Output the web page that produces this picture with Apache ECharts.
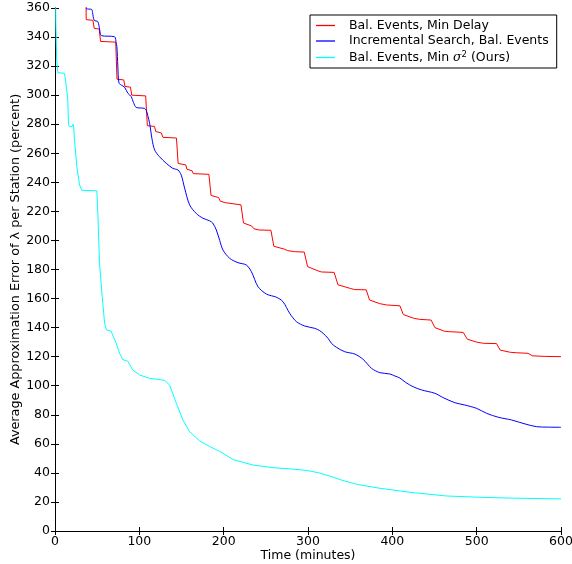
<!DOCTYPE html>
<html>
<head>
<meta charset="utf-8">
<script src="https://cdn.jsdelivr.net/npm/echarts@6/dist/echarts.min.js"></script>
<style>html,body{margin:0;padding:0;background:#fff}#c{width:572px;height:564px}</style>
</head>
<body>
<div id="c"></div>
<script>
// Time (minutes), Average approximation error (percent)
const seriesNames = ["Bal. Events, Min Delay", "Incremental Search, Bal. Events", "Bal. Events, Min \u03c3\u00b2 (Ours)"];
const minDelay = [[36.5,380],[37,352],[45,351.5],[46.5,346],[52.5,345.5],[54,337],[72,336.5],[73.5,311],[81.5,310.5],[83,306],[89.5,305.5],[91,300],[107.5,299.5],[109.5,279],[118,278.5],[119.5,275],[126,274],[128,271],[144,270.5],[146,253],[155,252],[156.5,249],[162.5,248],[164,246],[182.5,245.5],[185,231],[194,229.5],[196,227],[202,226],[204,225],[220.5,224.5],[223.5,212],[233,210],[236,208],[242,207.2],[256,207],[259.5,196],[272,194],[276,193],[284,192.3],[295.5,192],[299.5,182],[312,179],[316,178.3],[331,178],[335.5,169.5],[350,167],[355,166.2],[369,166],[373,159],[385,156.5],[393,155.6],[409,155],[413,149],[425,146.5],[432,145.7],[446,145.2],[450.5,140],[462,137.5],[468,137.2],[484,136.7],[489,132],[500,130],[508,129.2],[523.5,129],[528,124.5],[540,123],[547,122.7],[561,122.3],[566,120.6],[580,120.2],[600,120]];
const incremental = [[37,365],[37.5,359.5],[43.5,359],[44.5,357],[46.5,351.5],[50.8,350.6],[53,345],[55,341],[70.6,340.2],[72.5,336],[73.4,333.4],[74.5,320],[75.8,308.5],[78.5,307],[82.5,305.5],[86.4,301.3],[90.4,299],[93,295],[96.3,291.6],[106.2,290.9],[108.2,289.5],[110,286],[112.2,280.6],[115,270],[118.1,262.3],[124,257.6],[131.9,253.1],[139.8,249.6],[145.8,248.5],[149.7,245],[153.7,236],[159.6,224.5],[167.6,218.5],[175.4,215.3],[183.4,213.5],[187,212],[191.3,207.2],[195.3,200],[199.2,193.4],[207.1,187.7],[217,184.7],[226.9,183.1],[232.9,178.5],[240.7,168.2],[250.7,163.1],[262.6,160.9],[270.4,157.8],[278.3,149.8],[286.3,144.1],[296.1,141.1],[308,139.5],[313.9,137.9],[317.9,136.1],[323.8,132.6],[327.8,129.2],[333.8,126.4],[343.6,123.4],[355.5,121.8],[365.3,118.2],[375.3,112],[385.2,109],[397,108.1],[403,106.7],[408.9,105.3],[416,102.2],[424.7,99.3],[434.6,97.1],[450.4,94.8],[460.3,91.8],[474.2,88.3],[486.1,86.7],[500,84.4],[511.8,81],[525.6,78.3],[541.5,76.4],[557.3,73.7],[571.1,71.8],[585,71.5],[600,71.4]];
const minVariance = [[0,420],[1,350],[2,325],[3.4,315.5],[11.3,315],[13,308],[15.2,296.7],[16,280],[17,278.5],[20.4,278.5],[21.5,280],[22.2,278],[23.1,269],[25.9,250.8],[29.1,238.2],[31.8,234.5],[49.6,234.2],[50.8,218.7],[52.8,184.3],[56,161.3],[58.8,143],[61,138.5],[62.7,137.9],[66.5,137.5],[68.6,136.5],[72.6,129.2],[76.6,122.3],[80.5,117.9],[84,117.3],[86.4,116.8],[92.3,110.8],[100.3,107.4],[112.2,105.1],[125,104.2],[130,103.6],[135.9,100.5],[143.9,87.9],[151.7,76.4],[159.6,68.4],[171.5,62],[183.4,58.2],[195.3,54.8],[211,49.2],[234.8,45.4],[258.5,43.6],[280,42.7],[290.2,42.2],[302,41.3],[313,40],[325.8,37.8],[340,35],[357.5,32.2],[385.2,29.4],[424.7,26.4],[464.3,24.1],[503.9,23.2],[543.4,22.6],[600,22.1]];
const xTicks = {min: 0, max: 600, interval: 100};
const yTicks = {min: 0, max: 360, interval: 20};

const font = "DejaVu Sans";
const chart = echarts.init(document.getElementById('c'), null, {renderer: 'canvas'});
const axisCommon = {
  axisLine: {show: true, lineStyle: {color: '#000', width: 1}},
  axisTick: {show: true, inside: true, length: 4, lineStyle: {color: '#000'}},
  splitLine: {show: false}
};
chart.setOption({
  animation: false,
  backgroundColor: '#fff',
  grid: {left: 55, right: 11, top: 8, bottom: 33, containLabel: false, outerBoundsMode: 'none'},
  legend: {
    orient: 'vertical', left: 310, top: 15,
    data: seriesNames,
    icon: 'rect',
    borderColor: '#000', borderWidth: 1, borderRadius: 0,
    padding: [4, 8, 4, 6], itemGap: 2.5,
    itemWidth: 19, itemHeight: 1.3,
    textStyle: {fontFamily: font, fontSize: 12.5, color: '#000',
      rich: {g: {width: 9},
             i: {fontFamily: 'DejaVu Serif', fontStyle: 'italic', fontSize: 12.5, color: '#000'},
             s: {fontFamily: font, fontSize: 8.5, color: '#000', verticalAlign: 'top', padding: [0,0,6,0]}}},
    formatter: function (n) {
      if (n === seriesNames[2]) return '{g|}Bal. Events, Min {i|\u03c3}{s|2} (Ours)';
      return '{g|}' + n;
    }
  },
  xAxis: [
    Object.assign({type: 'value', min: xTicks.min, max: xTicks.max, interval: xTicks.interval,
      name: 'Time (minutes)', nameLocation: 'middle', nameGap: 18, nameMoveOverlap: false,
      nameTextStyle: {fontFamily: font, fontSize: 12.5, color: '#000'},
      axisLabel: {fontFamily: font, fontSize: 12.5, color: '#000', margin: 4}}, axisCommon),
    Object.assign({type: 'value', position: 'top', min: xTicks.min, max: xTicks.max, interval: xTicks.interval,
      axisLabel: {show: false}}, axisCommon)
  ],
  yAxis: [
    Object.assign({type: 'value', min: yTicks.min, max: yTicks.max, interval: yTicks.interval,
      name: 'Average Approximation Error of \u03bb per Station (percent)', nameLocation: 'middle', nameGap: 33, nameMoveOverlap: false,
      nameTextStyle: {fontFamily: font, fontSize: 12.8, color: '#000'},
      axisLabel: {fontFamily: font, fontSize: 12.5, color: '#000', margin: 5}}, axisCommon),
    Object.assign({type: 'value', position: 'right', min: yTicks.min, max: yTicks.max, interval: yTicks.interval,
      axisLabel: {show: false}}, axisCommon)
  ],
  series: [
    {name: seriesNames[0], type: 'line', data: minDelay, showSymbol: false, symbol: 'none', clip: true,
     lineStyle: {color: '#ff0000', width: 1}, itemStyle: {color: '#ff0000'}},
    {name: seriesNames[1], type: 'line', data: incremental, showSymbol: false, symbol: 'none', clip: true, smooth: 0.3,
     lineStyle: {color: '#0000ff', width: 1}, itemStyle: {color: '#0000ff'}},
    {name: seriesNames[2], type: 'line', data: minVariance, showSymbol: false, symbol: 'none', clip: true,
     lineStyle: {color: '#00ffff', width: 1}, itemStyle: {color: '#00ffff'}}
  ]
});
</script>
</body>
</html>
